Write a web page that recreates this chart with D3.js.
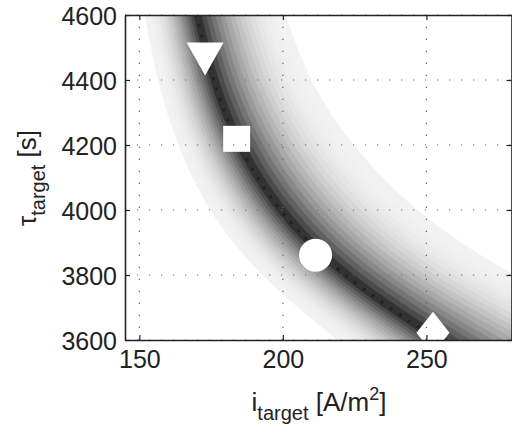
<!DOCTYPE html>
<html>
<head>
<meta charset="utf-8">
<script src="https://cdn.jsdelivr.net/npm/d3@7.9.0/dist/d3.min.js"></script>
<style>
  body { margin: 0; background: #fff; }
  svg { display: block; font-family: "Liberation Sans", Arial, sans-serif; }
</style>
</head>
<body>
<svg id="chart" width="512" height="433"></svg>
<script>
// ridge of the error map (darkest line), read at each tau tick
const tauTicks = [3600, 3800, 4000, 4200, 4400, 4600];
const ridgeI = [254, 219.8, 197.8, 184, 175.3, 170];
// extent of the grey field either side of the ridge, in ln(i) units
const widthLeft = [0.148, 0.14, 0.13, 0.121, 0.116, 0.112];
const widthRight = [0.26, 0.235, 0.215, 0.195, 0.175, 0.167];

const xTicks = [150, 200, 250];
const yTicks = [3600, 3800, 4000, 4200, 4400, 4600];

// operating points
const markerI = [172.9, 183.9, 211.4, 252.3];
const markerTau = [4465, 4219, 3861, 3622];
const markerShape = ['triangleDown', 'square', 'circle', 'diamond'];

const nLevels = 18;

const svg = d3.select('#chart');
const pL = 125, pT = 15, pR = 512.5, pB = 340;

const x = d3.scaleLinear().domain([145, 280]).range([pL, pR]);
const y = d3.scaleLinear().domain([3600, 4600]).range([pB, pT]);

const tNorm = d3.scaleLinear().domain([3600, 4600]).range([0, 1]).clamp(true);
const ridgeAt = d3.interpolateBasis(ridgeI);
const wlAt = d3.interpolateBasis(widthLeft);
const wrAt = d3.interpolateBasis(widthRight);

// field on a 1px grid
const gw = Math.ceil(pR - pL), gh = pB - pT;
const values = new Float64Array(gw * gh);
for (let r = 0; r < gh; r++) {
  const tau = y.invert(pT + r + 0.5);
  const t = tNorm(tau);
  const ri = ridgeAt(t), wl = wlAt(t), wr = wrAt(t);
  for (let c = 0; c < gw; c++) {
    const i = x.invert(pL + c + 0.5);
    const d = Math.log(i / ri);
    const v = d < 0 ? -d / wl : d / wr;
    values[r * gw + c] = 1 - v;
  }
}

const thresholds = d3.range(nLevels).map((k) => k / nLevels);
const contours = d3.contours().size([gw, gh]).thresholds(thresholds)(values);
const gray = (t) => {
  const g = Math.round(242 - (242 - 25) * Math.pow(t, 2.2));
  return `rgb(${g},${g},${g})`;
};

svg.append('defs').append('clipPath').attr('id', 'plot-clip')
  .append('rect').attr('x', pL).attr('y', pT)
  .attr('width', pR - pL).attr('height', pB - pT);

const plot = svg.append('g').attr('clip-path', 'url(#plot-clip)');

plot.append('g')
  .attr('transform', `translate(${pL},${pT})`)
  .selectAll('path')
  .data(contours)
  .join('path')
  .attr('d', d3.geoPath())
  .attr('fill', (d) => gray(d.value))
  .attr('stroke', (d) => gray(d.value))
  .attr('stroke-width', 0.4);

// dark beaded core along the ridge
const ridgeLine = d3.line()
  .x((d) => x(d[0]))
  .y((d) => y(d[1]))
  .curve(d3.curveBasis);
plot.append('path')
  .datum(ridgeI.map((v, k) => [v, tauTicks[k]]))
  .attr('d', ridgeLine)
  .attr('fill', 'none')
  .attr('stroke', '#111')
  .attr('stroke-width', 3)
  .attr('stroke-dasharray', '3,8')
  .attr('opacity', 0.5);

// markers
const markerPath = (shape) => {
  if (shape === 'triangleDown') return 'M-18.5,-16.5L18.5,-16.5L0,16.5Z';
  if (shape === 'square') return 'M-13.5,-13L13.5,-13L13.5,13L-13.5,13Z';
  if (shape === 'diamond') return 'M0,-21L16.5,0L0,21L-16.5,0Z';
  return d3.arc()({ innerRadius: 0, outerRadius: 16.5, startAngle: 0, endAngle: 2 * Math.PI });
};
plot.append('g')
  .selectAll('path')
  .data(markerShape)
  .join('path')
  .attr('transform', (d, k) => `translate(${x(markerI[k])},${y(markerTau[k])})`)
  .attr('d', (d) => markerPath(d))
  .attr('fill', '#fff');

// dotted grid on top
const grid = svg.append('g').attr('stroke', '#666').attr('stroke-width', 1.2)
  .attr('stroke-dasharray', '1.2,10.8');
grid.selectAll('.gx').data(xTicks).join('line')
  .attr('x1', (d) => x(d)).attr('x2', (d) => x(d))
  .attr('y1', pB).attr('y2', pT);
grid.selectAll('.gy').data(yTicks).join('line')
  .attr('x1', pL).attr('x2', pR)
  .attr('y1', (d) => y(d)).attr('y2', (d) => y(d));

// axes with inward ticks
const fmt = d3.format('d');
const axB = svg.append('g').attr('transform', `translate(0,${pB})`)
  .call(d3.axisBottom(x).tickValues(xTicks).tickFormat(fmt).tickSizeInner(-5).tickSizeOuter(0).tickPadding(10));
const axL = svg.append('g').attr('transform', `translate(${pL},0)`)
  .call(d3.axisLeft(y).tickValues(yTicks).tickFormat(fmt).tickSizeInner(-5).tickSizeOuter(0).tickPadding(8));
svg.append('g').attr('transform', `translate(0,${pT})`)
  .call(d3.axisTop(x).tickValues(xTicks).tickSizeInner(-5).tickSizeOuter(0).tickFormat(''));
svg.append('g').attr('transform', `translate(${pR - 1},0)`)
  .call(d3.axisRight(y).tickValues(yTicks).tickSizeInner(-5).tickSizeOuter(0).tickFormat(''));

svg.selectAll('.domain').attr('stroke', '#222').attr('stroke-width', 1.6);
svg.selectAll('.tick line').attr('stroke', '#222').attr('stroke-width', 1.2);
svg.selectAll('.tick text').attr('fill', '#222').attr('font-size', 25)
  .attr('font-family', '"Liberation Sans", Arial, sans-serif');
axL.selectAll('.tick text').attr('dy', '0.36em');

// axis titles
const xt = svg.append('text').attr('x', 319).attr('y', 411)
  .attr('text-anchor', 'middle').attr('fill', '#222').attr('font-size', 26);
xt.append('tspan').text('i');
xt.append('tspan').attr('font-size', 20).attr('dy', 9).text('target');
xt.append('tspan').attr('dy', -9).text(' [A/m');
xt.append('tspan').attr('font-size', 18).attr('dy', -11).text('2');
xt.append('tspan').attr('dy', 11).text(']');

const yt = svg.append('text').attr('transform', 'translate(36,178) rotate(-90)')
  .attr('text-anchor', 'middle').attr('fill', '#222').attr('font-size', 26);
yt.append('tspan').text('τ');
yt.append('tspan').attr('font-size', 20).attr('dy', 9).text('target');
yt.append('tspan').attr('dy', -9).text(' [s]');
</script>
</body>
</html>
